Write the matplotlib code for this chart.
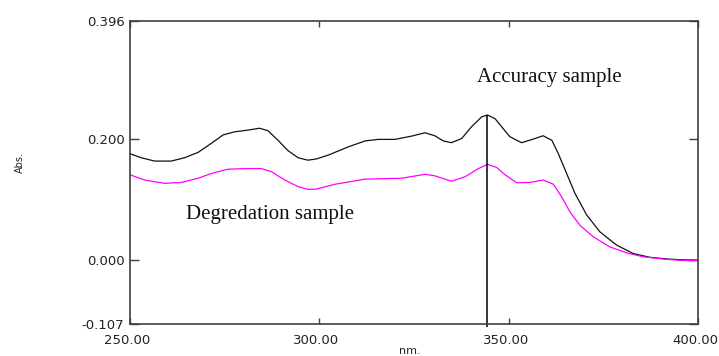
import numpy as np
import matplotlib
matplotlib.use("Agg")
import matplotlib.pyplot as plt
import matplotlib.transforms as mtransforms

# accuracy sample spectrum (black)
acc_nm = [250.0, 250.3, 253.0, 256.5, 260.9, 264.4, 268.0, 271.5, 274.6, 277.6, 281.2,
          284.2, 286.4, 289.1, 291.7, 294.4, 297.0, 299.2, 302.4, 307.6, 312.1, 315.6,
          320.0, 324.4, 327.9, 330.5, 332.7, 334.9, 337.6, 340.2, 342.9, 344.4, 346.4,
          348.6, 350.3, 353.4, 356.5, 359.1, 361.4, 363.1, 365.3, 367.5, 370.6, 374.1,
          378.5, 382.9, 387.3, 391.7, 396.0, 400.0]
acc_abs = [0.176, 0.175, 0.169, 0.1635, 0.1635, 0.169, 0.178, 0.193, 0.207, 0.212, 0.215,
           0.218, 0.214, 0.198, 0.181, 0.169, 0.165, 0.167, 0.1735, 0.187, 0.197, 0.1995,
           0.1995, 0.205, 0.2105, 0.2055, 0.197, 0.194, 0.201, 0.2205, 0.237, 0.240, 0.234,
           0.217, 0.204, 0.194, 0.200, 0.2055, 0.198, 0.176, 0.143, 0.110, 0.074, 0.046,
           0.024, 0.010, 0.0037, 0.001, -0.0005, -0.001]

# degradation sample spectrum (magenta)
deg_nm = [250.0, 250.3, 253.9, 259.2, 263.5, 268.0, 271.5, 275.9, 280.3, 284.7, 287.3,
          290.9, 294.4, 297.0, 299.2, 304.1, 312.1, 321.7, 327.9, 330.5, 334.9, 338.5,
          342.0, 344.4, 346.8, 349.0, 352.1, 355.6, 359.1, 361.8, 364.0, 366.2, 368.8,
          372.3, 376.7, 381.2, 385.5, 391.7, 396.0, 400.0]
deg_abs = [0.141, 0.140, 0.132, 0.1265, 0.128, 0.135, 0.143, 0.150, 0.151, 0.151, 0.146,
           0.132, 0.121, 0.1165, 0.117, 0.125, 0.1335, 0.135, 0.1415, 0.139, 0.130, 0.1375,
           0.151, 0.158, 0.153, 0.141, 0.1275, 0.128, 0.132, 0.125, 0.104, 0.079, 0.057,
           0.038, 0.021, 0.011, 0.0046, 0.0003, -0.0015, -0.002]

peak_nm = 344.4
peak_abs = 0.240

xticks = [250, 300, 350, 400]
yticks = [-0.107, 0.0, 0.2, 0.396]

fig = plt.figure(figsize=(7.19, 3.56), dpi=100)
ax = fig.add_axes([0.1808, 0.0899, 0.790, 0.851])

ax.plot(acc_nm, acc_abs, color="#111111", lw=0.9)
ax.plot(deg_nm, deg_abs, color="#ff00ff", lw=0.9)
ax.vlines(peak_nm, -0.112, peak_abs, color="black", lw=1.1, clip_on=False)

ax.set_xlim(250, 400)
ax.set_ylim(-0.107, 0.396)

ax.set_xticks(xticks)
ax.set_xticklabels([f"{v:.2f}" for v in xticks])
ax.set_yticks(yticks)
ax.set_yticklabels([f"{v:.3f}" for v in yticks])

for s in ax.spines.values():
    s.set_color("#404040")
    s.set_linewidth(1.2)

ax.tick_params(axis="x", direction="in", length=4.5, width=1, color="#404040",
               top=True, labelsize=9.5, pad=7, labelcolor="#222222")
ax.tick_params(axis="y", direction="in", length=6.5, width=1, color="#404040",
               right=True, labelsize=9.5, pad=4, labelcolor="#222222")

# x labels sit a little left of their ticks in the original
shift = mtransforms.ScaledTranslation(-3 / 100, 0, fig.dpi_scale_trans)
for lab in ax.get_xticklabels():
    lab.set_transform(lab.get_transform() + shift)

ax.text(341.6, 0.303, "Accuracy sample", family="Liberation Serif", fontsize=15,
        va="center", ha="left", color="#111111")
ax.text(264.8, 0.074, "Degredation sample", family="Liberation Serif", fontsize=15,
        va="center", ha="left", color="#111111")

fig.text(20 / 719, 1 - 163 / 356, "Abs.", rotation=90, fontsize=7,
         ha="center", va="center", color="#222222")
fig.text(410 / 719, 1 - 351 / 356, "nm.", fontsize=8,
         ha="center", va="center", color="#222222")

fig.savefig("out.png", dpi=100)
